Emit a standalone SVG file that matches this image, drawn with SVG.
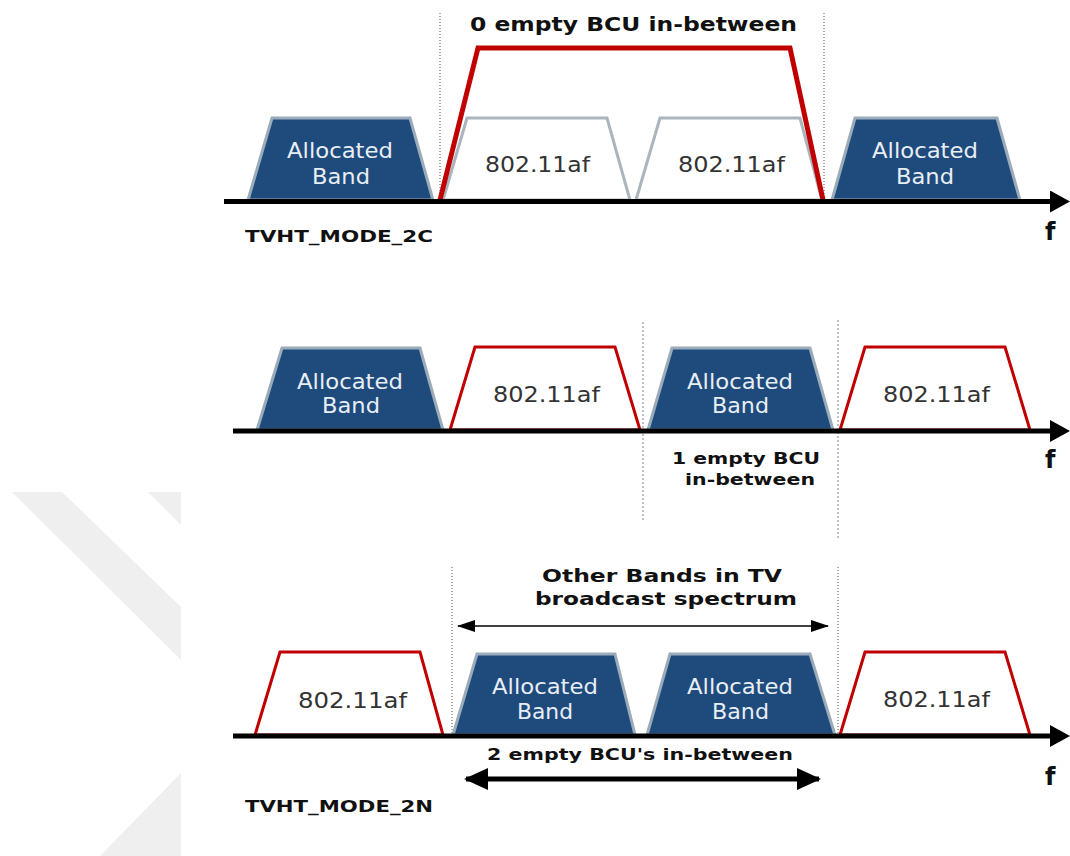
<svg xmlns="http://www.w3.org/2000/svg" width="1070" height="856" viewBox="0 0 1070 856">
<style>
.wm{fill:#efefef;stroke:none}
.alloc{fill:#1e4a7c;stroke:#9aabb9;stroke-width:3;stroke-linejoin:miter}
.grey{fill:#ffffff;stroke:#aab5be;stroke-width:3}
.red{fill:#ffffff;stroke:#c00000;stroke-width:3}
.redbig{fill:none;stroke:#c00000;stroke-width:5;stroke-linejoin:miter}
.axis{stroke:#000;stroke-width:5;fill:none}
.dot{stroke:#555;stroke-width:1;stroke-dasharray:1 2;fill:none}
.dotg{stroke:#999;stroke-width:1.2;stroke-dasharray:2 2;fill:none}
.tw{font-family:"DejaVu Sans",Verdana,sans-serif;font-size:21px;fill:#e8eef5}
.tb{font-family:"DejaVu Sans",Verdana,sans-serif;font-size:21px;fill:#333}
.lb{font-family:"DejaVu Sans",Verdana,sans-serif;font-weight:bold;fill:#111}
</style>
<defs>
<marker id="axhead" viewBox="0 0 20 22" refX="0" refY="11" markerWidth="20" markerHeight="22" markerUnits="userSpaceOnUse" orient="auto"><path d="M0,0 L20,11 L0,22 z" fill="#000"/></marker>
<marker id="thin" viewBox="0 0 18 12" refX="17" refY="6" markerWidth="18" markerHeight="12" markerUnits="userSpaceOnUse" orient="auto-start-reverse"><path d="M0,0 L18,6 L0,12 z" fill="#000"/></marker>
<marker id="thick" viewBox="0 0 24 22" refX="22" refY="11" markerWidth="24" markerHeight="22" markerUnits="userSpaceOnUse" orient="auto-start-reverse"><path d="M0,0 L24,11 L0,22 z" fill="#000"/></marker>
</defs>
<rect width="1070" height="856" fill="#fff"/>
<g id="watermark">
<polygon class="wm" points="12,492 62,492 181,607 181,660"/>
<polygon class="wm" points="148,492 181,492 181,525"/>
<polygon class="wm" points="181,773 100,856 181,856"/>
</g>
<g id="guides">
<line class="dot" x1="440" y1="13" x2="440" y2="200"/>
<line class="dot" x1="824" y1="13" x2="824" y2="200"/>
<line class="dotg" x1="643" y1="322" x2="643" y2="520"/>
<line class="dotg" x1="838" y1="320" x2="838" y2="538"/>
<line class="dot" x1="452" y1="567" x2="452" y2="735"/>
<line class="dot" x1="838" y1="567" x2="838" y2="735"/>
</g>
<!-- Row 1 -->
<g id="r1-alloc-left"><polygon class="alloc" points="248,200 272,118 410,118 433,200"/><text class="tw" x="287" y="158" textLength="106" lengthAdjust="spacingAndGlyphs">Allocated</text><text class="tw" x="312" y="184" textLength="58" lengthAdjust="spacingAndGlyphs">Band</text></g>
<g id="r1-af-1"><polygon class="grey" points="443,200 467,118 607,118 630,200"/><text class="tb" x="485" y="172" textLength="105" lengthAdjust="spacingAndGlyphs">802.11af</text></g>
<g id="r1-af-2"><polygon class="grey" points="636,200 660,118 800,118 822,200"/><text class="tb" x="678" y="172" textLength="107" lengthAdjust="spacingAndGlyphs">802.11af</text></g>
<g id="r1-channel"><polyline class="redbig" points="440,200 478,48 790,48 823,200"/><text class="lb" x="470" y="31" font-size="19" textLength="327" lengthAdjust="spacingAndGlyphs">0 empty BCU in-between</text></g>
<g id="r1-alloc-right"><polygon class="alloc" points="832,200 855,118 997,118 1020,200"/><text class="tw" x="872" y="158" textLength="106" lengthAdjust="spacingAndGlyphs">Allocated</text><text class="tw" x="896" y="184" textLength="58" lengthAdjust="spacingAndGlyphs">Band</text></g>
<g id="r1-label"><text class="lb" x="245" y="242" font-size="16" textLength="188" lengthAdjust="spacingAndGlyphs">TVHT_MODE_2C</text><text class="lb" x="1045" y="240" font-size="24">f</text></g>
<!-- Row 2 -->
<g id="r2-alloc-1"><polygon class="alloc" points="257,430 282,348 420,348 443,430"/><text class="tw" x="297" y="389" textLength="106" lengthAdjust="spacingAndGlyphs">Allocated</text><text class="tw" x="322" y="413" textLength="58" lengthAdjust="spacingAndGlyphs">Band</text></g>
<g id="r2-af-1"><polygon class="red" points="450,430 475,347 615,347 640,430"/><text class="tb" x="493" y="402" textLength="107" lengthAdjust="spacingAndGlyphs">802.11af</text></g>
<g id="r2-alloc-2"><polygon class="alloc" points="648,430 672,348 810,348 833,430"/><text class="tw" x="687" y="389" textLength="106" lengthAdjust="spacingAndGlyphs">Allocated</text><text class="tw" x="712" y="413" textLength="57" lengthAdjust="spacingAndGlyphs">Band</text></g>
<g id="r2-af-2"><polygon class="red" points="840,430 865,347 1005,347 1030,430"/><text class="tb" x="883" y="402" textLength="107" lengthAdjust="spacingAndGlyphs">802.11af</text></g>
<g id="r2-label"><text class="lb" x="672" y="464" font-size="15" textLength="148" lengthAdjust="spacingAndGlyphs">1 empty BCU</text><text class="lb" x="685" y="485" font-size="15" textLength="130" lengthAdjust="spacingAndGlyphs">in-between</text><text class="lb" x="1045" y="468" font-size="24">f</text></g>
<!-- Row 3 -->
<g id="r3-af-1"><polygon class="red" points="255,735 280,652 420,652 443,735"/><text class="tb" x="298" y="708" textLength="109" lengthAdjust="spacingAndGlyphs">802.11af</text></g>
<g id="r3-alloc-1"><polygon class="alloc" points="453,735 477,654 615,654 635,735"/><text class="tw" x="492" y="694" textLength="106" lengthAdjust="spacingAndGlyphs">Allocated</text><text class="tw" x="517" y="719" textLength="56" lengthAdjust="spacingAndGlyphs">Band</text></g>
<g id="r3-alloc-2"><polygon class="alloc" points="647,735 670,654 810,654 835,735"/><text class="tw" x="687" y="694" textLength="106" lengthAdjust="spacingAndGlyphs">Allocated</text><text class="tw" x="712" y="719" textLength="57" lengthAdjust="spacingAndGlyphs">Band</text></g>
<g id="r3-af-2"><polygon class="red" points="840,735 865,652 1005,652 1030,735"/><text class="tb" x="883" y="707" textLength="107" lengthAdjust="spacingAndGlyphs">802.11af</text></g>
<g id="r3-label"><text class="lb" x="542" y="582" font-size="18.5" textLength="240" lengthAdjust="spacingAndGlyphs">Other Bands in TV</text><text class="lb" x="535" y="605" font-size="18.5" textLength="262" lengthAdjust="spacingAndGlyphs">broadcast spectrum</text><text class="lb" x="487" y="760" font-size="15.5" textLength="306" lengthAdjust="spacingAndGlyphs">2 empty BCU's in-between</text><text class="lb" x="245" y="812" font-size="16" textLength="188" lengthAdjust="spacingAndGlyphs">TVHT_MODE_2N</text><text class="lb" x="1045" y="785" font-size="24">f</text></g>
<g id="connectors">
<line class="axis" x1="224" y1="201.5" x2="1050" y2="201.5" marker-end="url(#axhead)"/>
<line class="axis" x1="233" y1="431" x2="1050" y2="431" marker-end="url(#axhead)"/>
<line class="axis" x1="233" y1="736" x2="1050" y2="736" marker-end="url(#axhead)"/>
<line x1="458" y1="626" x2="828" y2="626" stroke="#000" stroke-width="1.5" marker-start="url(#thin)" marker-end="url(#thin)"/>
<line x1="466" y1="779" x2="819" y2="779" stroke="#000" stroke-width="5" marker-start="url(#thick)" marker-end="url(#thick)"/>
</g>
</svg>
